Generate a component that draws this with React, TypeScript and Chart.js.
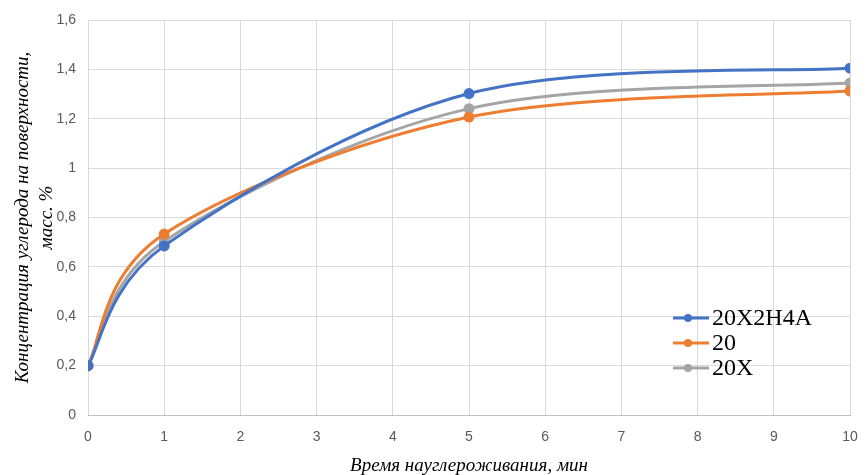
import React, { useEffect, useRef } from "react";
import { Chart, registerables } from "chart.js";

Chart.register(...registerables);

const seriesNames = ["20X2H4A", "20", "20X"];
const timeValues = [0, 1, 5, 10];
const series20X2H4A = [0.2, 0.685, 1.302, 1.405];
const series20 = [0.2, 0.733, 1.207, 1.312];
const series20X = [0.2, 0.703, 1.241, 1.345];
const seriesColors = ["#4472C4", "#ED7D31", "#A5A5A5"];
const yTickLabels = ["0", "0,2", "0,4", "0,6", "0,8", "1", "1,2", "1,4", "1,6"];
const xTickLabels = ["0", "1", "2", "3", "4", "5", "6", "7", "8", "9", "10"];
const yTitleLines = ["Концентрация углерода на поверхности,", "масс. %"];
const xTitle = "Время науглероживания, мин";

// Excel-like smoothing: Catmull-Rom handles (1/6) capped at half the segment length
const excelSmoothPlugin = {
  id: "excelSmooth",
  beforeDatasetDraw(chart: any, args: any) {
    const meta = args.meta;
    const line = meta.dataset;
    if (!line) return;
    line.updateControlPoints(chart.chartArea, "x");
    const pts = meta.data;
    const n = pts.length;
    const dist = (a: any, b: any) => Math.hypot(b.x - a.x, b.y - a.y);
    for (let i = 0; i < n - 1; i++) {
      const p1 = pts[i];
      const p2 = pts[i + 1];
      const p0 = i > 0 ? pts[i - 1] : p1;
      const p3 = i + 2 < n ? pts[i + 2] : p2;
      const d12 = dist(p1, p2);
      const d02 = dist(p0, p2);
      const d13 = dist(p1, p3);
      const f1 = d02 / 6 < d12 / 2 ? 1 / 6 : d12 / 2 / d02;
      const f2 = d13 / 6 < d12 / 2 ? 1 / 6 : d12 / 2 / d13;
      p1.cp2x = p1.x + f1 * (p2.x - p0.x);
      p1.cp2y = p1.y + f1 * (p2.y - p0.y);
      p2.cp1x = p2.x - f2 * (p3.x - p1.x);
      p2.cp1y = p2.y - f2 * (p3.y - p1.y);
    }
  },
};

const legendPlugin = {
  id: "insideLegend",
  afterDraw(chart: any) {
    const ctx = chart.ctx;
    const ds = chart.data.datasets;
    const x0 = 673;
    const y0 = 318;
    const step = 25;
    ctx.save();
    ds.forEach((d: any, i: number) => {
      const y = y0 + i * step;
      ctx.strokeStyle = d.borderColor;
      ctx.lineWidth = 3;
      ctx.beginPath();
      ctx.moveTo(x0, y);
      ctx.lineTo(x0 + 36, y);
      ctx.stroke();
      ctx.fillStyle = d.borderColor;
      ctx.beginPath();
      ctx.arc(x0 + 15, y, 4, 0, Math.PI * 2);
      ctx.fill();
      ctx.fillStyle = "#000000";
      ctx.font = "24px 'Liberation Serif'";
      ctx.textBaseline = "middle";
      ctx.textAlign = "left";
      ctx.fillText(d.label, x0 + 39, y + 1);
    });
    ctx.restore();
  },
};

export default function App() {
  const ref = useRef<HTMLCanvasElement>(null);
  useEffect(() => {
    if (!ref.current) return;
    const all = [series20X2H4A, series20, series20X];
    const chart = new Chart(ref.current, {
      type: "line",
      data: {
        datasets: all.map((vals, i) => ({
          label: seriesNames[i],
          data: vals.map((v, j) => ({ x: timeValues[j], y: v })),
          borderColor: seriesColors[i],
          backgroundColor: seriesColors[i],
          borderWidth: 3,
          pointRadius: 4,
          pointHoverRadius: 4,
          tension: 0.4,
          fill: false,
        })),
      },
      options: {
        responsive: false,
        animation: false,
        layout: { padding: { top: 20, right: 18, left: 0, bottom: 0 } },
        plugins: { legend: { display: false }, tooltip: { enabled: false } },
        scales: {
          x: {
            type: "linear",
            min: 0,
            max: 10,
            afterFit: (s: any) => {
              s.height = 60;
              s.paddingRight = 0;
              s.paddingLeft = 0;
            },
            ticks: {
              stepSize: 1,
              padding: 14,
              color: "#595959",
              font: { family: "'Liberation Sans'", size: 14 },
              callback: (_v: any, i: number) => xTickLabels[i],
            },
            grid: { color: "#d9d9d9", drawTicks: false, lineWidth: 1 },
            border: { color: "#bfbfbf" },
            title: {
              display: true,
              text: xTitle,
              color: "#000000",
              font: { family: "'Liberation Serif'", size: 19, style: "italic", lineHeight: 0.95 },
              padding: { top: 9, bottom: 0 },
            },
          },
          y: {
            min: 0,
            max: 1.6,
            afterFit: (s: any) => {
              s.width = 88;
              s.paddingTop = 0;
              s.paddingBottom = 0;
            },
            ticks: {
              stepSize: 0.2,
              padding: 12,
              color: "#595959",
              font: { family: "'Liberation Sans'", size: 14 },
              callback: (_v: any, i: number) => yTickLabels[i],
            },
            grid: { color: "#d9d9d9", drawTicks: false, lineWidth: 1 },
            border: { display: false },
            title: {
              display: true,
              text: yTitleLines,
              color: "#000000",
              font: { family: "'Liberation Serif'", size: 19, style: "italic", lineHeight: 1.25 },
              padding: { top: 11, bottom: 0 },
            },
          },
        },
      },
      plugins: [excelSmoothPlugin, legendPlugin],
    });
    return () => chart.destroy();
  }, []);
  return (
    <div style={{ position: "absolute", left: 0, top: 0, width: 868, height: 475, background: "#ffffff" }}>
      <canvas ref={ref} width={868} height={475} />
    </div>
  );
}
